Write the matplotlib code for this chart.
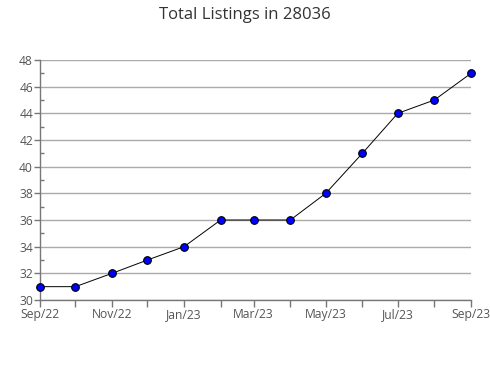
import matplotlib
matplotlib.use("Agg")
import matplotlib.pyplot as plt
import pandas as pd

dates = pd.date_range("2022-09-01", "2023-09-01", freq="MS")
values = [31, 31, 32, 33, 34, 36, 36, 36, 38, 41, 44, 45, 47]
tick_dates = pd.date_range("2022-09-01", "2023-09-01", freq="2MS")
tick_labels = ["Sep/22", "Nov/22", "Jan/23", "Mar/23", "May/23", "Jul/23", "Sep/23"]
title = "Total Listings in 28036"

plt.rcParams['font.family'] = ['Open Sans', 'DejaVu Sans']

fig = plt.figure(figsize=(4.9, 3.8), dpi=100)
ax = fig.add_axes([40/490, 1-300/380, 431/490, 240/380])

ax.plot(dates, values, color='black', lw=0.7, marker='o', markersize=5.5,
        markerfacecolor='#0000ff', markeredgecolor='black', markeredgewidth=0.8,
        zorder=3, clip_on=False)

ax.set_xlim(dates[0], dates[-1])
ax.set_ylim(30, 48)
ax.set_yticks(range(30, 49, 2))
ax.set_yticks(range(31, 48, 2), minor=True)
ax.set_xticks(tick_dates)
ax.set_xticklabels(tick_labels)
ax.set_xticks(dates, minor=True)

ax.grid(axis='y', which='major', color='#aaaaaa', lw=1)
ax.set_axisbelow(True)
for s in ['top', 'right']:
    ax.spines[s].set_visible(False)
for s in ['left', 'bottom']:
    ax.spines[s].set_color('#777777')
    ax.spines[s].set_linewidth(1)

ax.tick_params(axis='both', which='both', colors='#777777', labelcolor='#555555',
               labelsize=8.7, length=5, width=1, pad=1)
ax.tick_params(axis='y', which='major', length=4)
ax.tick_params(axis='y', which='minor', direction='in', length=3)
ax.tick_params(axis='x', which='minor', length=5)

fig.text(245/490, 1-15/380, title, ha='center', va='center', fontsize=12, color='#333333')

fig.savefig("out.png", dpi=100)
